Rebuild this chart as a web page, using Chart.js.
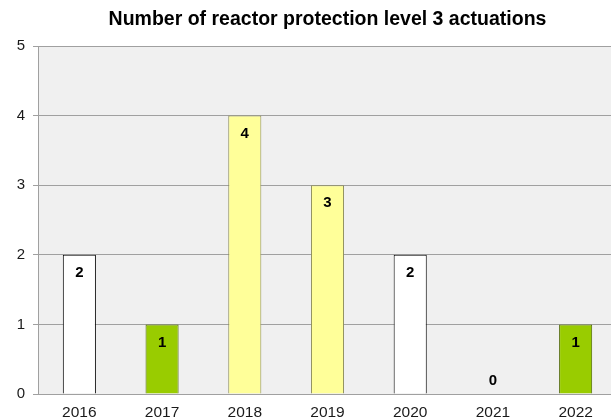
<!DOCTYPE html>
<html>
<head>
<meta charset="utf-8">
<script src="https://cdn.jsdelivr.net/npm/chart.js@4/dist/chart.umd.min.js"></script>
<style>
    html, body { margin: 0; padding: 0; overflow: hidden; background: #fff; }
    canvas { display: block; }
</style>
</head>
<body>
<canvas id="actuationsChart" width="620" height="419"></canvas>
<script>
// Data
const chartTitle = 'Number of reactor protection level 3 actuations';
const years = ['2016', '2017', '2018', '2019', '2020', '2021', '2022'];
const actuations = [2, 1, 4, 3, 2, 0, 1];
const barColors = ['#ffffff', '#99cc00', '#ffff99', '#ffff99', '#ffffff', '#ffffff', '#99cc00'];
const borderColors = ['#000000', '#4d6600', '#8c8c5a', '#8c8c5a', '#000000', '#000000', '#4d6600'];
const yTicks = [0, 1, 2, 3, 4, 5];

const FONT = '"Liberation Sans", Arial, sans-serif';

// Grey plot area behind the bars, title centred over the plot area
const plotBackground = {
    id: 'plotBackground',
    beforeDraw(chart) {
        const { ctx, chartArea: a } = chart;
        ctx.save();
        ctx.fillStyle = '#f0f0f0';
        ctx.fillRect(a.left, a.top, a.right - a.left, a.bottom - a.top);
        ctx.font = 'bold 19.5px ' + FONT;
        ctx.fillStyle = '#000';
        ctx.textAlign = 'center';
        ctx.textBaseline = 'middle';
        ctx.fillText(chartTitle, (a.left + a.right) / 2, 20);
        ctx.restore();
    }
};

// Value labels inside the bars
const valueLabels = {
    id: 'valueLabels',
    afterDatasetsDraw(chart) {
        const { ctx } = chart;
        const meta = chart.getDatasetMeta(0);
        ctx.save();
        ctx.font = 'bold 15px ' + FONT;
        ctx.fillStyle = '#000';
        ctx.textAlign = 'center';
        ctx.textBaseline = 'middle';
        meta.data.forEach((bar, i) => {
            const v = actuations[i];
            const y = v > 0 ? bar.y + 18 : bar.base - 13;
            ctx.fillText(String(v), bar.x, y);
        });
        ctx.restore();
    }
};

new Chart(document.getElementById('actuationsChart'), {
    type: 'bar',
    data: {
        labels: years,
        datasets: [{
            data: actuations,
            backgroundColor: barColors,
            borderColor: borderColors,
            borderWidth: 1,
            categoryPercentage: 1,
            barPercentage: 0.4
        }]
    },
    options: {
        responsive: false,
        animation: false,
        layout: { padding: { top: 46, right: 3, left: 0, bottom: 0 } },
        plugins: {
            legend: { display: false },
            tooltip: { enabled: false },
            title: { display: false }
        },
        scales: {
            x: {
                offset: true,
                grid: { display: false },
                border: { color: '#a0a0a0' },
                afterFit(scale) { scale.height = 25; },
                ticks: {
                    color: '#1a1a1a',
                    padding: 1,
                    font: { family: FONT, size: 15.5 }
                }
            },
            y: {
                min: 0,
                max: 5,
                afterBuildTicks(scale) { scale.ticks = yTicks.map(v => ({ value: v })); },
                afterFit(scale) { scale.width = 38; },
                grid: { color: '#a0a0a0', tickLength: 5 },
                border: { color: '#a0a0a0' },
                ticks: {
                    color: '#1a1a1a',
                    padding: 8,
                    font: { family: FONT, size: 15 }
                }
            }
        }
    },
    plugins: [plotBackground, valueLabels]
});
</script>
</body>
</html>
